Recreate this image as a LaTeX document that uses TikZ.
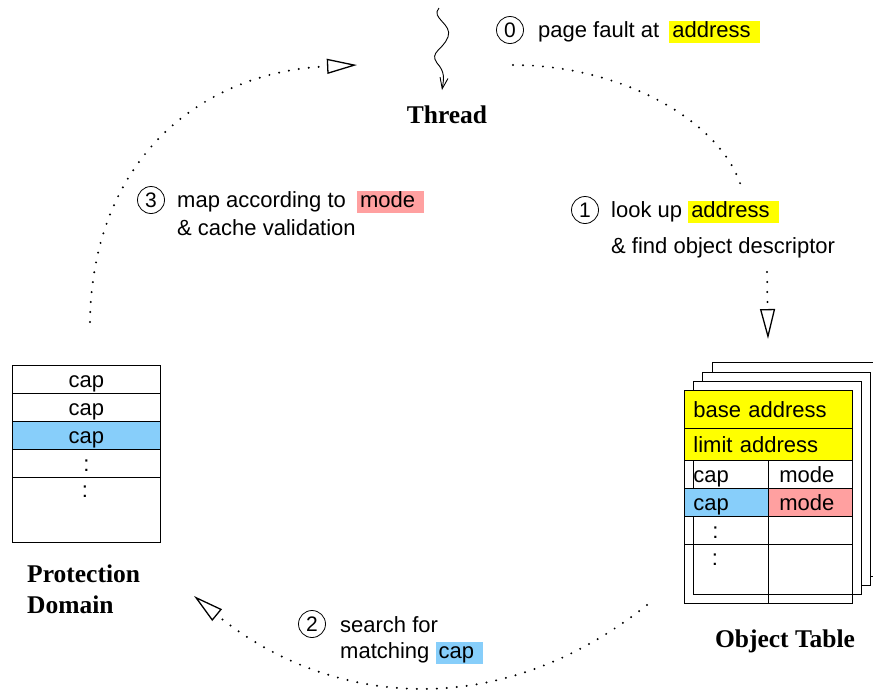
\documentclass[tikz,border=0pt]{standalone}
\usepackage{fontspec}
\setmainfont{Liberation Sans}
\newfontfamily\titlefont{Liberation Serif}
\usetikzlibrary{arrows.meta}
\tikzset{
  txt/.style={font=\fontsize{22}{26}\selectfont, inner sep=0pt},
  ttl/.style={font=\titlefont\bfseries\fontsize{25.5}{31}\selectfont, inner sep=0pt},
  num/.style={circle, draw, line width=0.8pt, minimum size=27pt, inner sep=0pt, font=\fontsize{21}{25}\selectfont},
  cell/.style={draw, line width=0.8pt, anchor=north west, inner sep=0pt, inner xsep=9pt,
    text height=19pt, text depth=2pt, font=\fontsize{22}{26}\selectfont, align=left},
  page/.style={draw, fill=white, line width=0.8pt},
  dots/.style={line width=2.2pt, line cap=round, dash pattern=on 0pt off 10pt},
  hollow/.style={-{Triangle[open, length=30pt, width=15pt, line width=1.3pt]}},
}
\newcommand\hl[2]{{\fboxsep=0pt\colorbox{#1}{\rule[-6pt]{0pt}{22pt}\hspace{3pt}#2\hspace{9pt}}}}
\begin{document}
\begin{tikzpicture}[x=1pt, y=-1pt]
\definecolor{addryellow}{HTML}{FFFF00}
\definecolor{capblue}{HTML}{87CEFA}
\definecolor{modepink}{HTML}{FFA0A0}
\useasboundingbox (0,0) rectangle (873,694);

\coordinate (th0) at (439,8);
\coordinate (th1) at (442,90);
\draw[line width=0.9pt, -{Straight Barb[length=11pt, width=8pt]}] (th0)
  .. controls (430,18) and (453,24) .. (448,37)
  .. controls (443,50) and (429,52) .. (437,63)
  .. controls (445,72) and (444,78) .. (th1);
\node[ttl, anchor=base] (thread) at (447,123) {Thread};

\node[num] (n0) at (510,30) {0};
\node[txt, anchor=base west] (t0) at (538,37) {page fault at\hspace{4pt} \hl{addryellow}{address}};

\coordinate (a0s) at (513,65);
\coordinate (a0e) at (741,186);
\draw[dots] (a0s) .. controls (620,65) and (720,120) .. (a0e);

\node[num] (n1) at (585,210) {1};
\node[txt, anchor=base west] (t1a) at (611,217) {look up \hl{addryellow}{address}};
\node[txt, anchor=base west] (t1b) at (611,253) {\& find object descriptor};

\coordinate (a1s) at (767,272);
\coordinate (a1e) at (768,339);
\draw[dots, hollow] (a1s) -- (a1e);

\draw[page] (712,362) rectangle (880,576);
\draw[page] (702,372) rectangle (870,585);
\draw[page] (693,381) rectangle (861,594);
\node[cell, text width=150pt, minimum height=38pt, fill=addryellow] (base) at (684,390) {base address};
\node[cell, text width=150pt, minimum height=32pt, fill=addryellow] (limit) at (684,428) {limit address};
\node[cell, text width=66pt, minimum height=28pt] (caph) at (684,460) {cap};
\node[cell, text width=66pt, minimum height=28pt] (modeh) at (768,460) {\hspace*{2pt}mode};
\node[cell, text width=66pt, minimum height=28pt, fill=capblue] (caps) at (684,488) {cap};
\node[cell, text width=66pt, minimum height=28pt, fill=modepink] (modes) at (768,488) {\hspace*{2pt}mode};
\node[cell, text width=66pt, minimum height=28pt] (dotl) at (684,516) {\hspace*{19pt}:};
\node[cell, text width=66pt, minimum height=28pt] (dotr) at (768,516) {};
\node[cell, text width=66pt, minimum height=59pt] (lastl) at (684,544) {};
\node[cell, text width=66pt, minimum height=59pt] (lastr) at (768,544) {};
\node[txt] (otd) at (715,560) {:};
\node[ttl, anchor=base] (objtab) at (785,647) {Object Table};

\coordinate (a2s) at (647,605);
\coordinate (a2e) at (194,596);
\draw[dots, hollow] (a2s) .. controls (490,730) and (320,700) .. (a2e);

\node[num] (n2) at (312,624) {2};
\node[txt, anchor=base west] (t2a) at (340,632) {search for};
\node[txt, anchor=base west] (t2b) at (340,658) {matching \hl{capblue}{cap}};

\node[cell, text width=130pt, align=center, minimum height=28pt] (pd1) at (12,365) {cap};
\node[cell, text width=130pt, align=center, minimum height=28pt] (pd2) at (12,393) {cap};
\node[cell, text width=130pt, align=center, minimum height=28pt, fill=capblue] (pd3) at (12,421) {cap};
\node[cell, text width=130pt, align=center, minimum height=28pt] (pd4) at (12,449) {:};
\node[cell, text width=130pt, align=center, minimum height=65pt] (pd5) at (12,477) {};
\node[txt] (pdd) at (85,492) {:};
\node[ttl, anchor=base west] (prot) at (27,582) {Protection};
\node[ttl, anchor=base west] (dom) at (27,613) {Domain};

\coordinate (a3s) at (90,322);
\coordinate (a3e) at (357,65);
\draw[dots, hollow] (a3s) .. controls (92,160) and (200,72) .. (a3e);

\node[num] (n3) at (151,200) {3};
\node[txt, anchor=base west] (t3a) at (177,207) {map according to\hspace{5pt} \hl{modepink}{mode}};
\node[txt, anchor=base west] (t3b) at (177,235) {\& cache validation};
\end{tikzpicture}
\end{document}
